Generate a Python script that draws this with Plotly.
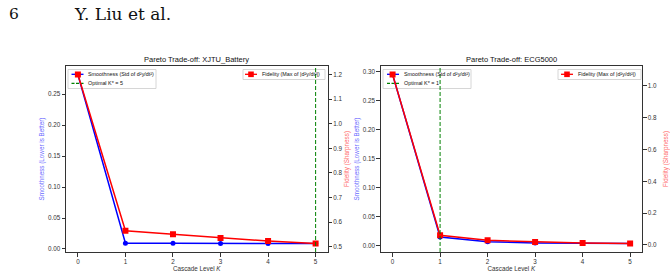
import plotly.graph_objects as go

# ---------------- data ----------------
cascade_levels = [0, 1, 2, 3, 4, 5]
xjtu_smoothness = [0.282, 0.0092, 0.0091, 0.0090, 0.0088, 0.0088]
xjtu_fidelity = [1.200, 0.565, 0.551, 0.536, 0.523, 0.513]
ecg_smoothness = [0.295, 0.0155, 0.0075, 0.0052, 0.0045, 0.0042]
ecg_fidelity = [1.072, 0.061, 0.029, 0.019, 0.012, 0.009]
optimal_k = {"XJTU_Battery": 5, "ECG5000": 1}
panel_titles = ["Pareto Trade-off: XJTU_Battery", "Pareto Trade-off: ECG5000"]

W, H = 670, 277
FONT = "Liberation Sans, Arial, sans-serif"
BLUE, RED, GREEN = "#0000ff", "#ff0000", "#008000"
AX = "#333333"


def px(x):
    return x / W


def py(y):
    return 1 - y / H


def mrange(vals):
    lo, hi = min(vals), max(vals)
    m = (hi - lo) * 0.05
    return [lo - m, hi + m]


fig = go.Figure()

panels = [
    dict(x="x", ys="y", yf="y2", smooth=xjtu_smoothness, fid=xjtu_fidelity, k=optimal_k["XJTU_Battery"]),
    dict(x="x2", ys="y3", yf="y4", smooth=ecg_smoothness, fid=ecg_fidelity, k=optimal_k["ECG5000"]),
]

for p in panels:
    fig.add_trace(go.Scatter(x=cascade_levels, y=p["smooth"], xaxis=p["x"], yaxis=p["ys"],
                             mode="lines+markers", line=dict(color=BLUE, width=1.5),
                             marker=dict(symbol="circle", size=5, color=BLUE), showlegend=False))
    fig.add_trace(go.Scatter(x=cascade_levels, y=p["fid"], xaxis=p["x"], yaxis=p["yf"],
                             mode="lines+markers", line=dict(color=RED, width=1.5),
                             marker=dict(symbol="square", size=6, color=RED), showlegend=False))
    fig.add_shape(type="line", xref=p["x"], yref=p["ys"] + " domain", x0=p["k"], x1=p["k"], y0=0, y1=1,
                  line=dict(color=GREEN, width=1, dash="4px,2px"), layer="above")

dom_y = [py(252), py(66)]
dom_left = [px(66), px(327.5)]
dom_right = [px(380.7), px(642)]

tickfont = dict(family=FONT, size=6.3, color=AX)
common_axis = dict(showgrid=False, zeroline=False, showline=True, linecolor=AX, linewidth=1,
                   ticks="outside", ticklen=3.5, tickwidth=0.8, tickcolor=AX, tickfont=tickfont)


def xtitle():
    return dict(text="Cascade Level <i>K</i>", standoff=1, font=dict(family=FONT, size=6.3, color=AX))


def stitle():
    return dict(text="Smoothness (Lower is Better)", standoff=2, font=dict(family=FONT, size=6.3, color="#6a6aff"))


def ftitle(standoff):
    return dict(text="Fidelity (Sharpness)", standoff=standoff, font=dict(family=FONT, size=6.3, color="#ff6a6a"))


fig.update_layout(
    xaxis=dict(domain=dom_left, anchor="y", range=[-0.25, 5.25], tickmode="array",
               tickvals=cascade_levels, mirror=True, title=xtitle(), **common_axis),
    yaxis=dict(domain=dom_y, anchor="x", range=mrange(xjtu_smoothness), dtick=0.05,
               tickformat=".2f", title=stitle(), **common_axis),
    yaxis2=dict(overlaying="y", anchor="x", side="right", range=mrange(xjtu_fidelity), dtick=0.1,
                tickformat=".1f", title=ftitle(3), **common_axis),
    xaxis2=dict(domain=dom_right, anchor="y3", range=[-0.25, 5.25], tickmode="array",
                tickvals=cascade_levels, mirror=True, title=xtitle(), **common_axis),
    yaxis3=dict(domain=dom_y, anchor="x2", range=mrange(ecg_smoothness), dtick=0.05,
                tickformat=".2f", title=stitle(), **common_axis),
    yaxis4=dict(overlaying="y3", anchor="x2", side="right", range=mrange(ecg_fidelity), dtick=0.2,
                tickformat=".1f", title=ftitle(7), **common_axis),
    width=W, height=H, margin=dict(l=0, r=0, t=0, b=0, autoexpand=False),
    paper_bgcolor="white", plot_bgcolor="rgba(0,0,0,0)",
    showlegend=False,
)

ann = []
# page header
ann.append(dict(text="6", x=px(6.5), y=py(14), xanchor="left", yanchor="middle",
                font=dict(family="DejaVu Serif", size=15.5, color="#111")))
ann.append(dict(text="Y. Liu et al.", x=px(71.5), y=py(14), xanchor="left", yanchor="middle",
                font=dict(family="DejaVu Serif", size=17, color="#111")))

# panel titles
for title, dom in [(panel_titles[0], dom_left), (panel_titles[1], dom_right)]:
    cx = (dom[0] + dom[1]) / 2
    ann.append(dict(text=title, x=cx, y=py(59), xanchor="center", yanchor="middle",
                    font=dict(family=FONT, size=7.5, color="#111")))

# legends (drawn as shapes + text)
LFONT = dict(family=FONT, size=5.4, color="#111")


def legend_box(x0, x1, y0, y1):
    fig.add_shape(type="rect", xref="paper", yref="paper", x0=px(x0), x1=px(x1), y0=py(y1), y1=py(y0),
                  line=dict(color="#cccccc", width=0.8), fillcolor="rgba(255,255,255,0.85)", layer="below")


def legend_line(xc, yc, color, dash="solid"):
    fig.add_shape(type="line", xref="paper", yref="paper", x0=px(xc - 6), x1=px(xc + 6), y0=py(yc), y1=py(yc),
                  line=dict(color=color, width=1.3, dash=dash), layer="below")


def legend_circle(xc, yc, color, r=2.4):
    fig.add_shape(type="circle", xref="paper", yref="paper", x0=px(xc - r), x1=px(xc + r),
                  y0=py(yc + r), y1=py(yc - r), line=dict(color=color, width=0), fillcolor=color, layer="below")


def legend_square(xc, yc, color, r=2.8):
    fig.add_shape(type="rect", xref="paper", yref="paper", x0=px(xc - r), x1=px(xc + r),
                  y0=py(yc + r), y1=py(yc - r), line=dict(color=color, width=0), fillcolor=color, layer="below")


smooth_label = "Smoothness (Std of d²y/dt²)"
fid_label = "Fidelity (Max of |d²y/dt²|)"

for (bx0, bx1, hx, k, fx0, fx1, fhx) in [(68, 156, 77.5, optimal_k["XJTU_Battery"], 243, 325, 251),
                                        (383, 471, 393, optimal_k["ECG5000"], 558, 641, 567)]:
    legend_box(bx0, bx1, 69.5, 88.5)
    legend_line(hx, 74.3, BLUE)
    legend_circle(hx, 74.3, BLUE)
    ann.append(dict(text=smooth_label, x=px(hx + 8.5), y=py(74.3), xanchor="left", yanchor="middle", font=LFONT))
    legend_line(hx, 83.3, GREEN, dash="3px,1.5px")
    ann.append(dict(text="Optimal K* = %d" % k, x=px(hx + 8.5), y=py(83.3),
                    xanchor="left", yanchor="middle", font=LFONT))
    legend_box(fx0, fx1, 69.5, 79.5)
    legend_line(fhx, 74.3, RED)
    legend_square(fhx, 74.3, RED)
    ann.append(dict(text=fid_label, x=px(fhx + 8.5), y=py(74.3), xanchor="left", yanchor="middle", font=LFONT))

for a in ann:
    a.update(xref="paper", yref="paper", showarrow=False)
fig.update_layout(annotations=ann)

fig.write_html("out.html")
